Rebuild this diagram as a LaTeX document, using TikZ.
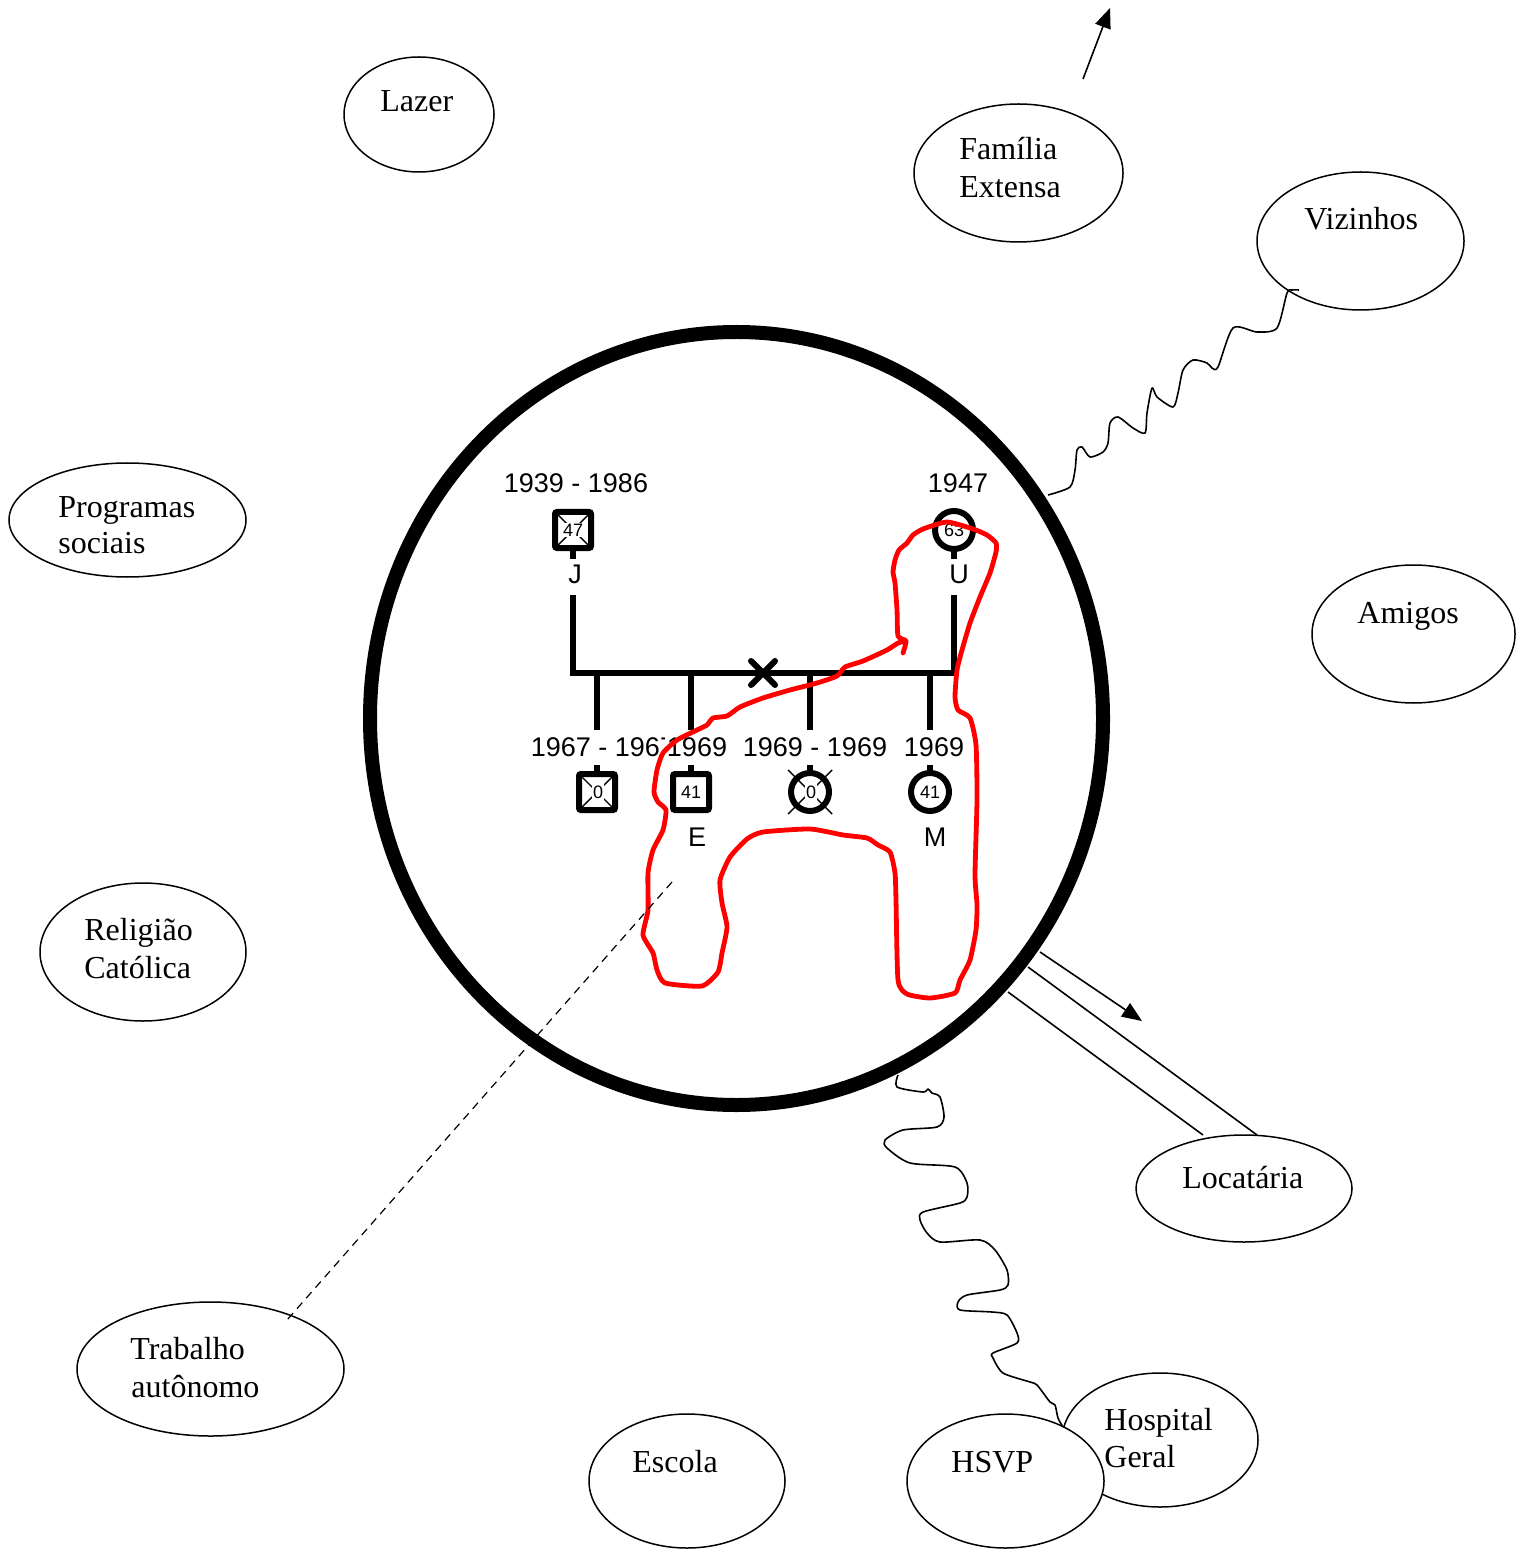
\documentclass[tikz,border=0pt]{standalone}
\usepackage{fontspec}
\setmainfont{Liberation Serif}
\newfontfamily\gsans{Liberation Sans}
\usetikzlibrary{shapes.geometric,arrows.meta}
\begin{document}
\begin{tikzpicture}[x=0.5pt,y=-0.5pt,
  ell/.style={draw,ellipse,line width=0.75pt,inner sep=0pt,fill=white},
  lbl/.style={anchor=base west,inner sep=0pt,font=\fontsize{16}{19}\selectfont},
  gt/.style={anchor=base,inner sep=0pt,font=\gsans\fontsize{13.5}{15}\selectfont},
  gnum/.style={inner sep=0.6pt,fill=white,font=\gsans\fontsize{9}{10}\selectfont},
  gline/.style={line width=3pt},
  msq/.style={draw,rectangle,line width=3pt,minimum size=18pt,rounded corners=1pt,inner sep=0pt},
  fcirc/.style={draw,circle,line width=3pt,minimum size=19pt,inner sep=0pt},
  thinx/.style={line width=0.7pt},
  wave/.style={line width=0.8pt,line join=round},
  conn/.style={line width=0.8pt},
  redl/.style={red,line width=2.4pt,line join=round,line cap=round},
  tip/.style={-{Triangle[length=10pt,width=8pt]}},
]
\useasboundingbox (0,0) rectangle (1518,1550);

% big family circle
\node[draw,ellipse,line width=7pt,minimum width=366.5pt,minimum height=386.5pt,inner sep=0pt] (fam) at (736.5,718.5) {};

% ---------- genogram ----------
\node[gt] (Jy) at (576,493) {1939 - 1986};
\node[gt] (Uy) at (958,493) {1947};
\draw[thinx] (555,512) -- (591,548) (555,548) -- (591,512);
\node[msq] (J) at (573,530) {};
\node[gnum] (Jn) at (573,530) {47};
\node[fcirc] (U) at (954,530) {};
\node[gnum] (Un) at (954,530) {63};
\draw[gline] (573,550) -- (573,559);
\draw[gline] (954,550) -- (954,559);
\node[gt] (Jl) at (575,583) {J};
\node[gt] (Ul) at (959,583) {U};
\coordinate (Jt) at (573,595);
\coordinate (Ut) at (954,595);
\coordinate (bl) at (573,673);
\coordinate (br) at (954,673);
\draw[gline] (Jt) -- (bl) -- (br) -- (Ut);
\node[inner sep=0pt] (sep) at (763,673) {};
\draw[line width=3pt,line cap=round] ([shift={(-12,-12)}]sep.center) -- ([shift={(12,12)}]sep.center)
  ([shift={(-12,12)}]sep.center) -- ([shift={(12,-12)}]sep.center);
\foreach \cx/\nm in {597/c1,691/c2,810/c3,930/c4}{
  \coordinate (\nm t) at (\cx,673);
  \coordinate (\nm b) at (\cx,730);
  \draw[gline] (\nm t) -- (\nm b);
  \draw[gline] (\cx,765) -- (\cx,774);
}
\node[gt] (y1) at (603,756) {1967 - 1967};
\node[gt,fill=white,inner xsep=1pt] (y2) at (697,756) {1969};
\node[gt] (y3) at (815,756) {1969 - 1969};
\node[gt] (y4) at (934,756) {1969};
% children
\draw[thinx] (579,774) -- (615,810) (579,810) -- (615,774);
\node[msq] (s1) at (597,792) {};
\node[gnum] (s1n) at (598,792) {0};
\node[msq] (s2) at (691,792) {};
\node[gnum] (s2n) at (691,792) {41};
\draw[thinx] (788,770) -- (832,814) (788,814) -- (832,770);
\node[fcirc] (s3) at (810,792) {};
\node[gnum] (s3n) at (811,792) {0};
\node[fcirc] (s4) at (930,792) {};
\node[gnum] (s4n) at (930,792) {41};
\node[gt] (El) at (697,846) {E};
\node[gt] (Ml) at (935,846) {M};

% red boundary
\draw[redl] plot[smooth,tension=0.35] coordinates {
(903,653) (906,641) (898,636) (897,610) (895,583) (893,572) (895,560) (899,550) (907,543) (913,535) (923,529) (947,522) (973,529) (987,535) (996,543) (996,552) (990,573) (980,597) (970,623) (962,650) (957,670) (955,697) (958,710) (970,718) (976,745) (977,800) (975,875) (977,905) (976,930) (970,960) (960,980) (955,993) (930,998) (907,994) (898,980) (896,900) (895,873) (890,852) (878,845) (867,838) (843,835) (810,829) (763,832) (747,839) (730,857) (720,880) (722,903) (727,927) (722,953) (718,972) (702,986) (665,983) (657,970) (653,953) (643,935) (648,910) (648,873) (653,850) (663,830) (666,810) (658,802) (654,792) (657,770) (663,753) (677,740) (697,730) (707,725) (713,718) (727,716) (740,707) (763,698) (790,690) (817,683) (837,676) (845,667) (863,661) (887,650) (898,643) (906,641)};

% ---------- surrounding systems ----------
\node[ell,minimum width=75pt,minimum height=57.5pt] (lazer) at (419,114.5) {};
\node[lbl] (lazerT) at (380,112) {Lazer};
\node[ell,minimum width=104.5pt,minimum height=69pt] (famext) at (1018.5,173) {};
\node[lbl] (famextA) at (959,160) {Família};
\node[lbl] (famextB) at (959,198) {Extensa};
\node[ell,minimum width=103.5pt,minimum height=69pt] (viz) at (1360.5,241) {};
\node[lbl] (vizT) at (1304,230) {Vizinhos};
\node[ell,minimum width=118.5pt,minimum height=57pt] (prog) at (127.5,520) {};
\node[lbl] (progA) at (58,517) {Programas};
\node[lbl] (progB) at (58,553) {sociais};
\node[ell,minimum width=101.5pt,minimum height=69pt] (amigos) at (1413.5,634) {};
\node[lbl] (amigosT) at (1357,623) {Amigos};
\node[ell,minimum width=103pt,minimum height=69pt] (rel) at (143,952) {};
\node[lbl] (relA) at (84,940) {Religião};
\node[lbl] (relB) at (84,978) {Católica};
\node[ell,minimum width=108pt,minimum height=53.5pt] (loc) at (1244,1188.5) {};
\node[lbl] (locT) at (1182,1188) {Locatária};
\node[ell,minimum width=133.5pt,minimum height=67pt] (trab) at (210.5,1369) {};
\node[lbl] (trabA) at (130,1359) {Trabalho};
\node[lbl] (trabB) at (131,1397) {autônomo};
\node[ell,minimum width=98pt,minimum height=67pt] (escola) at (687,1481) {};
\node[lbl] (escolaT) at (632,1472) {Escola};
\node[ell,minimum width=98pt,minimum height=67pt] (hosp) at (1160,1440) {};
\node[lbl] (hospA) at (1104,1430) {Hospital};
\node[lbl] (hospB) at (1104,1467) {Geral};
\node[ell,minimum width=98.5pt,minimum height=67pt] (hsvp) at (1005.5,1481) {};
\node[lbl] (hsvpT) at (951,1472) {HSVP};

% ---------- connectors ----------
\coordinate (topA) at (1083,79);
\coordinate (topB) at (1110,8);
\draw[conn,tip] (topA) -- (topB);

\draw[wave] plot[smooth,tension=0.45] coordinates {
(1048,495) (1070,487) (1075,470) (1077,450) (1082,447) (1090,457) (1103,452) (1108,443) (1110,423) (1118,417) (1133,428) (1145,433) (1147,413) (1152,388) (1157,397) (1173,407) (1178,393) (1183,370) (1193,360) (1207,363) (1212,368) (1218,367) (1233,328) (1257,332) (1277,328) (1287,293) (1292,290) (1299,290)};

\draw[wave] plot[smooth,tension=0.45] coordinates {
(898,1075) (897,1087) (923,1092) (928,1089) (932,1093) (940,1097) (944,1117) (937,1127) (903,1130) (885,1140) (887,1148) (910,1163) (955,1167) (967,1183) (967,1197) (960,1203) (923,1212) (920,1220) (927,1233) (940,1242) (980,1240) (995,1250) (1007,1270) (1008,1285) (1000,1290) (967,1295) (958,1302) (960,1310) (992,1312) (1007,1315) (1017,1333) (1017,1343) (993,1353) (993,1358) (1003,1373) (1030,1382) (1037,1385) (1050,1402) (1055,1405) (1058,1418) (1063,1427)};

\coordinate (l1a) at (1028,967);  \coordinate (l1b) at (1257,1135);
\coordinate (l2a) at (1008,992);  \coordinate (l2b) at (1203,1135);
\coordinate (l3a) at (1040,952);  \coordinate (l3b) at (1142,1021);
\draw[conn] (l1a) -- (l1b);
\draw[conn] (l2a) -- (l2b);
\draw[conn,tip] (l3a) -- (l3b);

\coordinate (da) at (672,882);
\coordinate (db) at (287,1320);
\draw[line width=0.6pt,dash pattern=on 4pt off 3pt] (da) -- (db);
\end{tikzpicture}
\end{document}
